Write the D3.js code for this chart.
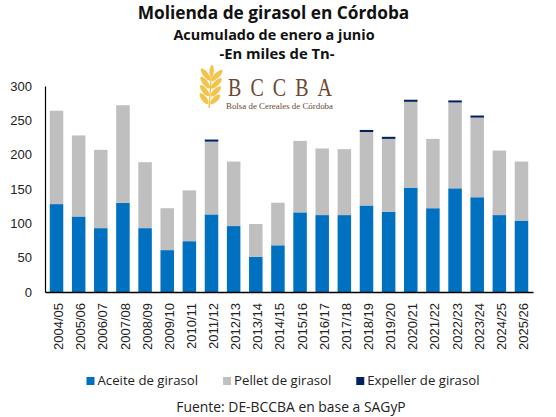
<!DOCTYPE html>
<html>
<head>
<meta charset="utf-8">
<script src="https://cdn.jsdelivr.net/npm/d3@7"></script>
<style>
  body { margin: 0; background: #fff; }
  svg { display: block; }
</style>
</head>
<body>
<div id="viz"></div>
<script>
const width = 556;
const height = 417;
const margin = {top: 86, right: 23, bottom: 125, left: 45};

// campañas
const seasons = ['2004/05','2005/06','2006/07','2007/08','2008/09','2009/10','2010/11','2011/12',
  '2012/13','2013/14','2014/15','2015/16','2016/17','2017/18','2018/19','2019/20','2020/21',
  '2021/22','2022/23','2023/24','2024/25','2025/26'];
// miles de Tn
const aceite = [128,110,93,130,93,61,74,113,96,51,68,116,112,112,126,117,152,122,151,138,112,104];
const pellet = [136,118,114,142,96,61,74,106,94,48,62,104,97,96,107,106,125,101,125,116,94,86];
const expeller = [0,0,0,0,0,0,0,3,0,0,0,0,0,0,3,3,3,0,3,3,0,0];
const yTicks = [0,50,100,150,200,250,300];

const groups = [
  { key: 'aceite', label: 'Aceite de girasol', color: '#0070C0' },
  { key: 'pellet', label: 'Pellet de girasol', color: '#BFBFBF' },
  { key: 'expeller', label: 'Expeller de girasol', color: '#002060' },
];

const data = seasons.map((s, i) => ({
  season: s, aceite: aceite[i], pellet: pellet[i], expeller: expeller[i]
}));

const svg = d3.select('#viz')
  .append('svg')
    .attr('width', width)
    .attr('height', height);

// Titles
const titles = [
  { text: 'Molienda de girasol en Córdoba', x: 273.5, y: 18.5, size: 17.3 },
  { text: 'Acumulado de enero a junio', x: 274, y: 39.5, size: 14.4 },
  { text: '-En miles de Tn-', x: 277, y: 58.5, size: 14.8 },
];
svg.append('g')
  .selectAll('text')
  .data(titles)
  .join('text')
    .attr('x', d => d.x)
    .attr('y', d => d.y)
    .attr('text-anchor', 'middle')
    .style('font-family', '"Open Sans", sans-serif')
    .style('font-weight', 700)
    .style('font-size', d => d.size + 'px')
    .style('fill', '#111')
    .text(d => d.text);

// Scales
const scaleX = d3.scaleBand()
  .domain(seasons)
  .range([margin.left, width - margin.right])
  .paddingInner(0.39)
  .paddingOuter(0.215);

const scaleY = d3.scaleLinear()
  .domain([0, 300])
  .range([height - margin.bottom, margin.top]);

const scaleColor = d3.scaleOrdinal()
  .domain(groups.map(g => g.key))
  .range(groups.map(g => g.color));

// Logo (watermark)
const logo = svg.append('g').attr('class', 'logo');
const wheat = logo.append('g').attr('transform', 'translate(210.5,87) rotate(4)');
wheat.append('path')
  .attr('d', 'M0,-18 L0,21')
  .attr('stroke', '#F3C44C')
  .attr('stroke-width', 1.4);
[-14, -6, 2, 10].forEach((dy, i) => {
  const len = 7.5 - i * 0.3;
  [-1, 1].forEach(side => {
    wheat.append('ellipse')
      .attr('cx', 0).attr('cy', 0)
      .attr('rx', 2.6).attr('ry', len)
      .attr('fill', '#F3C44C')
      .attr('transform', `translate(${side * 5.6},${dy + 2}) rotate(${side * 42})`);
  });
});
wheat.append('ellipse')
  .attr('cx', 0).attr('cy', -16)
  .attr('rx', 2.2).attr('ry', 6)
  .attr('fill', '#F3C44C');
logo.append('g')
  .attr('transform', 'translate(228,96.3) scale(1,1.3)')
  .append('text')
    .attr('x', 0)
    .attr('y', 0)
    .attr('textLength', 104)
    .attr('lengthAdjust', 'spacing')
    .style('font-family', '"Liberation Serif", "DejaVu Serif", serif')
    .style('font-size', '20px')
    .style('fill', '#6B4631')
    .text('BCCBA');
logo.append('text')
  .attr('x', 226)
  .attr('y', 108.7)
  .attr('textLength', 107)
  .attr('lengthAdjust', 'spacingAndGlyphs')
  .style('font-family', '"Liberation Serif", "DejaVu Serif", serif')
  .style('font-size', '9px')
  .style('fill', '#6B4631')
  .text('Bolsa de Cereales de Córdoba');

// Stack
const stack = d3.stack()
  .keys(groups.map(g => g.key))
  .order(d3.stackOrderNone)
  .offset(d3.stackOffsetNone);
const series = stack(data);

svg.append('g')
  .attr('class', 'bars')
  .selectAll('g')
  .data(series)
  .join('g')
    .attr('fill', d => scaleColor(d.key))
  .selectAll('rect')
  .data(d => d)
  .join('rect')
    .attr('x', d => scaleX(d.data.season))
    .attr('width', scaleX.bandwidth())
    .attr('y', d => scaleY(d[1]))
    .attr('height', d => scaleY(d[0]) - scaleY(d[1]));

// Y axis
const axisLeft = d3.axisLeft(scaleY)
  .tickValues(yTicks)
  .tickSize(0)
  .tickPadding(13)
  .tickSizeOuter(0);
const yAxis = svg.append('g')
  .attr('transform', `translate(${margin.left},0)`)
  .call(axisLeft);
yAxis.select('.domain').attr('stroke', '#000').attr('stroke-width', 1.2);
yAxis.selectAll('text')
  .style('font-family', '"Liberation Sans", Arial, sans-serif')
  .style('font-size', '13px')
  .style('fill', '#222');

// X axis
const axisBottom = d3.axisBottom(scaleX)
  .tickSize(0)
  .tickSizeOuter(0);
const xAxis = svg.append('g')
  .attr('transform', `translate(0,${height - margin.bottom})`)
  .call(axisBottom);
xAxis.select('.domain').attr('stroke', '#000').attr('stroke-width', 1.4);
xAxis.selectAll('text')
  .style('font-family', '"Liberation Sans", Arial, sans-serif')
  .style('font-size', '13px')
  .style('fill', '#222')
  .attr('text-anchor', 'end')
  .attr('transform', 'rotate(-90)')
  .attr('x', -11)
  .attr('y', 2)
  .attr('dy', '0.35em');

// Legend
const legend = svg.append('g').attr('class', 'legend');
const items = legend.selectAll('g')
  .data(groups)
  .join('g');
items.append('rect')
  .attr('width', 8)
  .attr('height', 8)
  .attr('y', -8)
  .attr('fill', d => d.color);
items.append('text')
  .attr('x', 11)
  .attr('y', 0)
  .style('font-family', '"Open Sans", sans-serif')
  .style('font-size', '13.2px')
  .style('fill', '#222')
  .text(d => d.label);
let lx = 0;
const gap = 25;
items.each(function() {
  const w = this.getBBox().width;
  d3.select(this).attr('data-x', lx);
  lx += w + gap;
});
const totalW = lx - gap;
const lx0 = 283 - totalW / 2;
items.attr('transform', function() {
  return `translate(${lx0 + +d3.select(this).attr('data-x')},385)`;
});

// Source
svg.append('text')
  .attr('x', 291)
  .attr('y', 411.5)
  .attr('text-anchor', 'middle')
  .style('font-family', '"Open Sans", sans-serif')
  .style('font-size', '13.9px')
  .style('fill', '#222')
  .text('Fuente: DE-BCCBA en base a SAGyP');
</script>
</body>
</html>
